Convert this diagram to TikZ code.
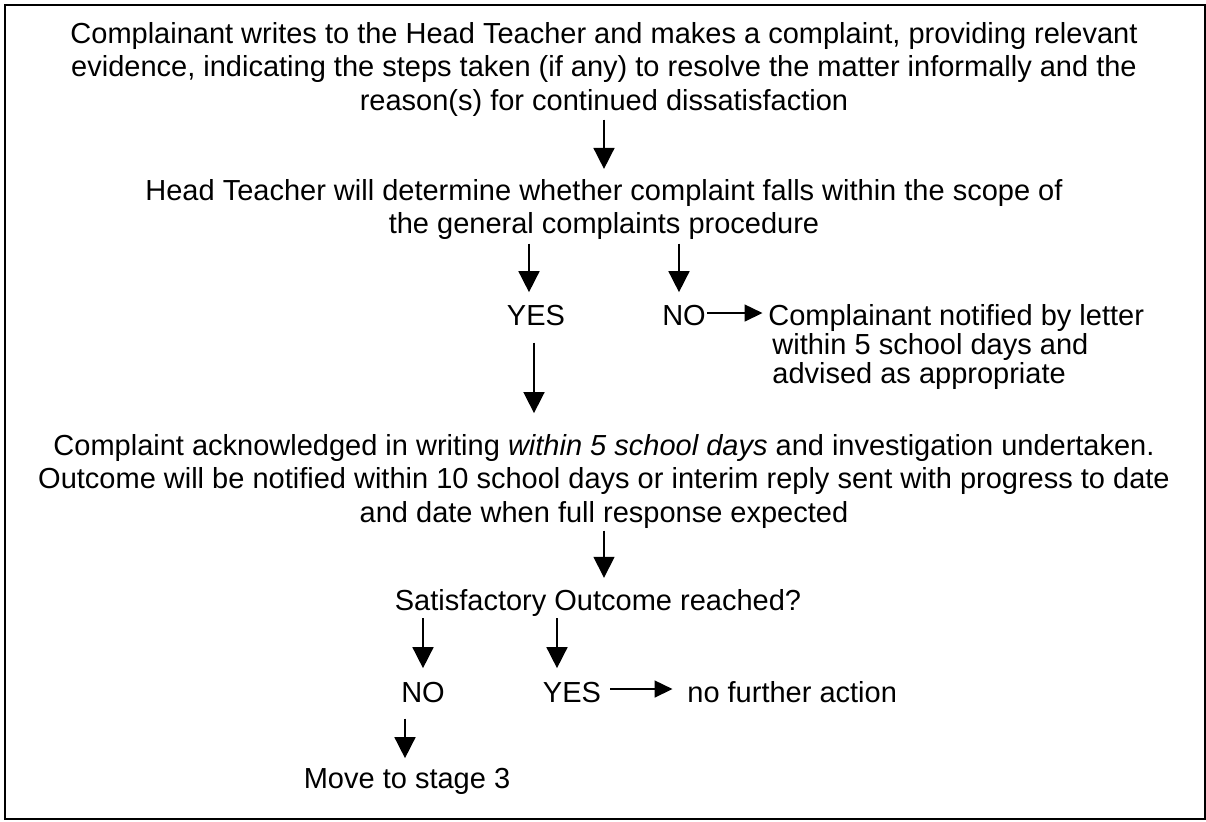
\documentclass[tikz,border=0pt]{standalone}
\usepackage{fontspec}
\setmainfont{Liberation Sans}
\usetikzlibrary{arrows.meta}
\tikzset{
    txt/.style={inner sep=0pt, font=\fontsize{14.5pt}{16.75pt}\selectfont, align=center},
    arr/.style={-{Triangle[length=10.5pt,width=10.5pt]}, line width=0.8pt},
    harr/.style={-{Triangle[length=9pt,width=8.5pt]}, line width=0.8pt}
}
\begin{document}
\begin{tikzpicture}[x=0.5pt, y=-0.5pt]
            \useasboundingbox (0, 0) rectangle (1206, 821);
            \draw[line width=0.7pt] (5, 5) rectangle (1205, 819);

            \node[txt, anchor=north] (Complaint) at (604, 21.9) {Complainant writes to the Head Teacher and makes a complaint, providing relevant\\evidence, indicating the steps taken (if any) to resolve the matter informally and the\\reason(s) for continued dissatisfaction};
            \node[txt, anchor=north] (Scope) at (604, 178.9) {Head Teacher will determine whether complaint falls within the scope of\\the general complaints procedure};
            \node[txt, anchor=base] (Yes) at (536, 325) {YES};
            \node[txt, anchor=base] (No) at (684, 325) {NO};
            \node[txt, anchor=north west, align=left, font=\fontsize{14.5pt}{13.5pt}\selectfont] (Notified) at (768, 303.9) {Complainant notified by letter\\\hspace{2pt}within 5 school days and\\\hspace{2pt}advised as appropriate};
            \node[txt, anchor=north] (Ack) at (604, 433.9) {Complaint acknowledged in writing \textit{within 5 school days} and investigation undertaken.\\Outcome will be notified within 10 school days or interim reply sent with progress to date\\and date when full response expected};
            \node[txt, anchor=base] (Outcome) at (598, 610) {Satisfactory Outcome reached?};
            \node[txt, anchor=base] (No2) at (423, 702) {NO};
            \node[txt, anchor=base] (Yes2) at (572, 702) {YES};
            \node[txt, anchor=base west] (NoAction) at (687, 702) {no further action};
            \node[txt, anchor=base] (Stage3) at (407, 788) {Move to stage 3};

            \draw[arr, shorten <=1.5pt, shorten >=5pt] (Complaint.south) -- (Scope.north);
            \draw[arr, shorten <=1.7pt, shorten >=6.1pt] ([xshift=-3.5pt]Yes.north |- Scope.south) -- ([xshift=-3.5pt]Yes.north);
            \draw[arr, shorten <=1.7pt, shorten >=6.1pt] ([xshift=-2.5pt]No.north |- Scope.south) -- ([xshift=-2.5pt]No.north);
            \draw[harr, shorten <=0.3pt, shorten >=2.75pt] ([yshift=1pt]No.east) -- ([yshift=1pt]No.east -| Notified.west);
            \draw[arr, shorten <=8.5pt, shorten >=10.4pt] ([xshift=-1pt]Yes.south) -- ([xshift=-1pt]Yes.south |- Ack.north);
            \draw[arr, shorten <=1pt, shorten >=5.4pt] (Ack.south) -- (Ack.south |- Outcome.north);
            \draw[arr, shorten <=1pt, shorten >=6.6pt] (No2.north |- Outcome.south) -- (No2.north);
            \draw[arr, shorten <=1pt, shorten >=6.6pt] ([xshift=-7.5pt]Yes2.north |- Outcome.south) -- ([xshift=-7.5pt]Yes2.north);
            \draw[harr, shorten <=4.5pt, shorten >=7.25pt] ([yshift=1.5pt]Yes2.east) -- ([yshift=1.5pt]Yes2.east -| NoAction.west);
            \draw[arr, shorten <=8pt, shorten >=4.6pt] ([xshift=-9pt]No2.south) -- ([xshift=-9pt]No2.south |- Stage3.north);
        \end{tikzpicture}
\end{document}
